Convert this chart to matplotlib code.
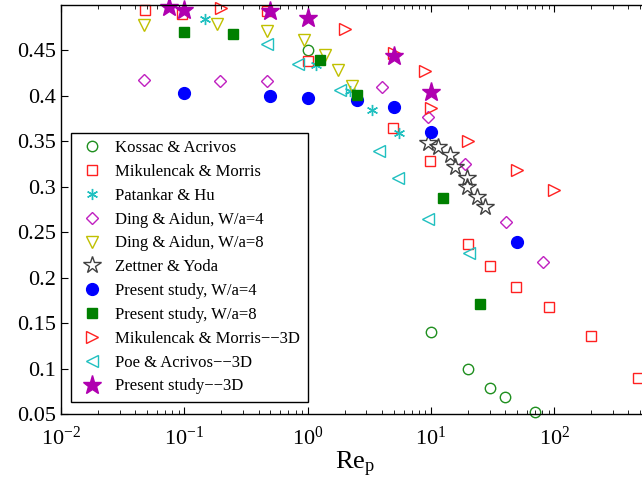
import numpy as np
import matplotlib
matplotlib.use("Agg")
import matplotlib.pyplot as plt

plt.rcParams['font.family'] = ['Liberation Serif', 'DejaVu Serif']
plt.rcParams['mathtext.fontset'] = 'custom'
plt.rcParams['mathtext.rm'] = 'Liberation Serif'
plt.rcParams['mathtext.it'] = 'Liberation Serif:italic'

# --- data (Re_p, y)
kossac_re = [1.0, 10, 20, 30, 40, 70]
kossac_y = [0.45, 0.14, 0.099, 0.079, 0.069, 0.052]

mik_re = [0.048, 0.095, 0.47, 1.0, 4.9, 9.8, 20, 30, 49, 91, 200, 480]
mik_y = [0.495, 0.490, 0.493, 0.438, 0.365, 0.328, 0.237, 0.213, 0.190,
         0.168, 0.136, 0.090]

pat_re = [0.148, 1.18, 2.2, 3.3, 5.5]
pat_y = [0.485, 0.434, 0.405, 0.385, 0.359]

ding4_re = [0.047, 0.195, 0.47, 4.0, 9.5, 18.9, 40.6, 80.7]
ding4_y = [0.417, 0.416, 0.416, 0.410, 0.377, 0.325, 0.261, 0.217]

ding8_re = [0.047, 0.185, 0.47, 0.935, 1.38, 1.78, 2.28]
ding8_y = [0.478, 0.479, 0.471, 0.461, 0.445, 0.429, 0.411]

zet_re = [9.5, 11.5, 14.3, 15.7, 19.5, 19.5, 23.5, 27.5]
zet_y = [0.348, 0.344, 0.335, 0.322, 0.310, 0.300, 0.289, 0.278]

ps4_re = [0.1, 0.5, 1.0, 2.5, 5.0, 10, 50]
ps4_y = [0.403, 0.400, 0.398, 0.396, 0.388, 0.360, 0.239]

ps8_re = [0.1, 0.25, 1.25, 2.5, 12.5, 25]
ps8_y = [0.470, 0.468, 0.439, 0.401, 0.288, 0.171]

mik3_re = [0.2, 2.0, 5.0, 9.0, 10, 20, 50, 100]
mik3_y = [0.497, 0.474, 0.447, 0.427, 0.387, 0.350, 0.318, 0.297]

poe3_re = [0.47, 0.84, 1.83, 3.8, 5.4, 9.5, 20.5]
poe3_y = [0.457, 0.4355, 0.406, 0.339, 0.310, 0.264, 0.227]

ps3_re = [0.075, 0.1, 0.5, 1.0, 5.0, 10]
ps3_y = [0.498, 0.495, 0.493, 0.486, 0.444, 0.404]

yticks = [0.05, 0.1, 0.15, 0.2, 0.25, 0.3, 0.35, 0.4, 0.45]
ytick_labels = ["0.05", "0.1", "0.15", "0.2", "0.25", "0.3", "0.35", "0.4", "0.45"]

fig = plt.figure(figsize=(6.42, 4.84), dpi=100)
# axes runs just past the right edge of the figure, as in the reference
ax = fig.add_axes([61 / 642, 70 / 484, 589 / 642, 409 / 484])

green = "#1f8f1f"
red = "#ff2020"
cyan = "#20c0c0"
mag = "#c020c0"
yel = "#c0c000"
dash = "\u2212\u22123D"

series = [
    (kossac_re, kossac_y, dict(marker='o', mfc='none', mec=green, ms=7.5), "Kossac & Acrivos"),
    (mik_re, mik_y, dict(marker='s', mfc='none', mec=red, ms=6.5), "Mikulencak & Morris"),
    (pat_re, pat_y, dict(marker=(6, 2, 0), mfc='none', mec=cyan, ms=8), "Patankar & Hu"),
    (ding4_re, ding4_y, dict(marker='D', mfc='none', mec=mag, ms=6.5), "Ding & Aidun, W/a=4"),
    (ding8_re, ding8_y, dict(marker='v', mfc='none', mec=yel, ms=9), "Ding & Aidun, W/a=8"),
    (zet_re, zet_y, dict(marker='*', mfc='none', mec="#404040", ms=13), "Zettner & Yoda"),
    (ps4_re, ps4_y, dict(marker='o', mfc='#0000ff', mec='#0000ff', ms=8.5), "Present study, W/a=4"),
    (ps8_re, ps8_y, dict(marker='s', mfc='#008000', mec='#008000', ms=6.5), "Present study, W/a=8"),
    (mik3_re, mik3_y, dict(marker='>', mfc='none', mec=red, ms=9), "Mikulencak & Morris" + dash),
    (poe3_re, poe3_y, dict(marker='<', mfc='none', mec=cyan, ms=9), "Poe & Acrivos" + dash),
    (ps3_re, ps3_y, dict(marker='*', mfc='#b000b0', mec='#b000b0', ms=14), "Present study" + dash),
]
for x, y, st, lab in series:
    ax.plot(x, y, ls='none', mew=1.0, label=lab, clip_on=False, **st)

ax.set_xscale('log')
ax.set_xlim(1e-2, 10 ** 2.777)
ax.set_ylim(0.05, 0.5)
ax.set_yticks(yticks)
ax.set_yticklabels(ytick_labels)
ax.tick_params(which='both', direction='in', top=True, right=True, labelsize=16)
ax.tick_params(axis='x', pad=9)
ax.tick_params(which='major', length=5, width=0.8)
ax.tick_params(which='minor', length=3, width=0.6)
for s in ax.spines.values():
    s.set_linewidth(1.0)
ax.set_xlabel("Re$_\\mathrm{p}$", fontsize=19, labelpad=0)

leg = ax.legend(loc='lower left', bbox_to_anchor=(10 / 589, 12 / 409), borderaxespad=0,
                fontsize=12, numpoints=1, fancybox=False, edgecolor='black',
                framealpha=1, labelspacing=0.47, handletextpad=0.6,
                handlelength=1.6, borderpad=0.45)
leg.get_frame().set_linewidth(1.0)

fig.savefig("out.png", dpi=100)
